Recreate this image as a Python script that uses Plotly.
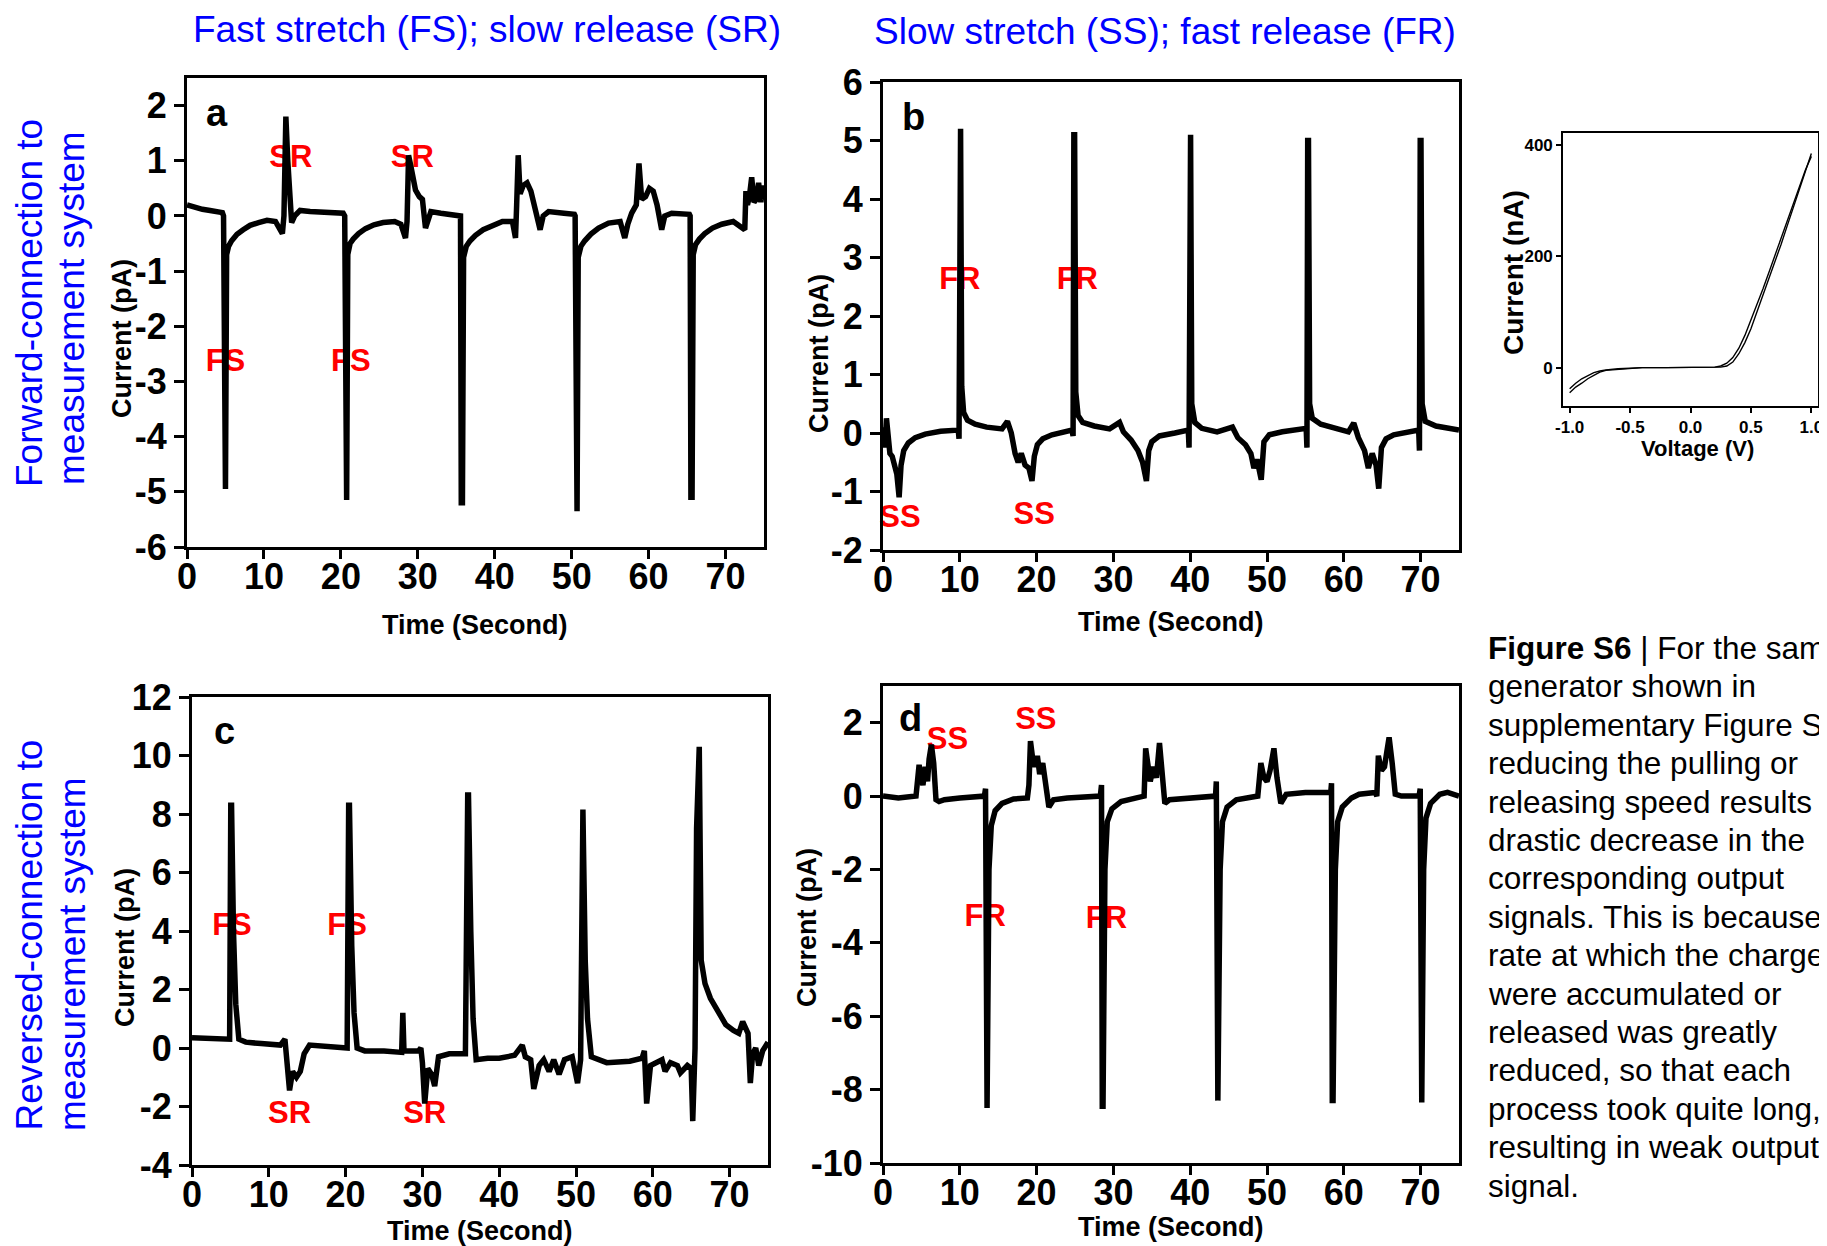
import plotly.graph_objects as go

W, H = 1827, 1246
OFF = 8  # page body margin that the browser adds around the figure

# ---------------- data ----------------
# Panel a: forward connection, fast stretch / slow release
a_t = [0, 1, 2, 3, 4, 4.6, 4.75, 4.85, 5.0, 5.15, 5.4, 5.8, 6.5, 7.3, 8.2, 9.3, 10.4, 11.5,
       12.0, 12.4, 12.6, 12.85, 13.1, 13.35, 13.6, 14.0, 14.7, 16, 18, 20.3, 20.5, 20.6, 20.75,
       20.9, 21.2, 21.6, 22.3, 23.2, 24.3, 25.5, 27, 27.8, 28.4, 28.6, 28.8, 29.1, 29.4, 29.7,
       30.2, 30.6, 31.0, 31.4, 31.7, 33, 35.4, 35.55, 35.65, 35.8, 35.95, 36.3, 36.8, 37.5,
       38.5, 39.7, 41, 42.3, 42.7, 42.85, 43.05, 43.3, 43.7, 44.2, 44.7, 45.3, 45.9, 46.3, 47,
       49, 50.35, 50.45, 50.55, 50.7, 50.85, 51.2, 51.7, 52.5, 53.5, 54.8, 56.3, 56.9, 57.3,
       57.8, 58.4, 58.75, 59.1, 59.6, 60.1, 60.6, 61.1, 61.7, 62.1, 63, 65.3, 65.4, 65.5,
       65.65, 65.8, 66.1, 66.6, 67.3, 68.3, 69.5, 71, 72.2, 72.5, 72.65, 72.85, 73.1, 73.4,
       73.7, 74.0, 74.3, 74.6, 74.8, 75]
a_i = [0.2, 0.15, 0.12, 0.1, 0.08, 0.06, 0.0, -4.95, -4.95, -0.7, -0.55, -0.45, -0.33, -0.25,
       -0.17, -0.12, -0.08, -0.1, -0.2, -0.32, 0.0, 1.8, 1.0, 0.2, -0.12, 0.0, 0.1, 0.08, 0.07,
       0.05, 0.0, -5.15, -5.15, -0.7, -0.5, -0.42, -0.32, -0.23, -0.16, -0.12, -0.1, -0.15,
       -0.4, -0.1, 1.1, 0.9, 0.6, 0.47, 0.35, 0.3, -0.22, -0.05, 0.08, 0.05, 0.02, 0.0, -5.2,
       -5.2, -0.75, -0.55, -0.45, -0.35, -0.25, -0.17, -0.1, -0.1, -0.4, 0.2, 1.1, 0.4, 0.55,
       0.6, 0.45, 0.1, -0.25, 0.0, 0.08, 0.05, 0.03, 0.0, -5.35, -5.35, -0.75, -0.55, -0.45,
       -0.33, -0.22, -0.13, -0.1, -0.4, -0.15, 0.05, 0.2, 0.95, 0.3, 0.35, 0.5, 0.45, 0.2,
       -0.25, 0.0, 0.05, 0.03, 0.0, -5.1, -5.1, -0.7, -0.52, -0.42, -0.32, -0.22, -0.15, -0.1,
       -0.2, -0.25, 0.45, 0.2, 0.35, 0.7, 0.25, 0.3, 0.6, 0.25, 0.55, 0.3]

# Panel b: forward connection, slow stretch / fast release
b_t = [0, 0.25, 0.45, 0.7, 0.9, 1.2, 1.5, 1.8, 2.1, 2.35, 2.7, 3.3, 4.2, 5.5, 7.5, 9.8, 9.9,
       10.0, 10.1, 10.25, 10.5, 11, 12, 13.5, 15.5, 16.2, 16.7, 17.2, 17.6, 18.0, 18.5, 19.0,
       19.4, 19.7, 20.1, 20.8, 22, 24.6, 24.75, 24.85, 24.95, 25.1, 25.4, 26, 27.5, 29.5,
       30.8, 31.3, 32.3, 33.2, 33.8, 34.3, 34.6, 35.0, 36, 38, 39.75, 39.85, 39.95, 40.05,
       40.2, 40.6, 41.5, 43.5, 45.5, 46.2, 47.2, 47.9, 48.3, 48.7, 49.25, 49.6, 50.3, 52,
       55.1, 55.2, 55.3, 55.4, 55.55, 55.9, 57, 59, 60.6, 61.3, 61.9, 62.7, 63.2, 63.7, 64.2,
       64.55, 64.9, 65.5, 66.5, 69.75, 69.85, 69.95, 70.05, 70.2, 70.6, 72, 74, 75]
b_i = [0.1, -0.25, 0.25, -0.1, -0.35, -0.4, -0.55, -0.7, -1.1, -0.55, -0.3, -0.17, -0.08,
       -0.02, 0.03, 0.05, -0.1, 5.2, 5.2, 0.8, 0.35, 0.22, 0.15, 0.1, 0.07, 0.2, 0.0, -0.35,
       -0.5, -0.35, -0.55, -0.6, -0.82, -0.4, -0.2, -0.1, -0.03, 0.05, -0.05, 5.1, 5.1, 0.7,
       0.3, 0.18, 0.12, 0.07, 0.18, 0.02, -0.12, -0.3, -0.5, -0.82, -0.3, -0.15, -0.05, 0.0,
       0.05, -0.25, 5.1, 5.1, 0.5, 0.18, 0.08, 0.02, 0.1, -0.08, -0.2, -0.35, -0.6, -0.45,
       -0.8, -0.15, -0.03, 0.02, 0.08, -0.25, 5.0, 5.0, 0.5, 0.25, 0.15, 0.07, 0.02, 0.17,
       -0.08, -0.3, -0.6, -0.35, -0.55, -0.95, -0.25, -0.1, -0.03, 0.05, -0.3, 5.0, 5.0, 0.5,
       0.2, 0.12, 0.07, 0.05]

# Panel c: reversed connection, fast stretch / slow release
c_t = [0, 2, 4.5, 4.9, 5.05, 5.15, 5.4, 5.7, 6.1, 7, 9, 11.5, 12.1, 12.4, 12.7, 13.1, 13.6,
       14.1, 14.6, 15.3, 17, 20.2, 20.4, 20.5, 20.8, 21.1, 21.5, 22.5, 25, 27.3, 27.45, 27.6,
       29.5, 29.8, 30.0, 30.3, 30.7, 31.2, 31.6, 32.1, 33.5, 35.6, 35.9, 36.0, 36.3, 36.6,
       37.0, 38.5, 40, 42, 43.0, 43.4, 44.1, 44.5, 45.2, 45.8, 46.5, 47.1, 47.8, 48.5, 49.5,
       50.2, 50.6, 50.8, 50.9, 51.2, 51.5, 52, 54, 57, 58.6, 58.9, 59.2, 59.7, 60.5, 61.2,
       61.6, 62.3, 63.2, 63.6, 64.5, 65.0, 65.2, 65.5, 65.7, 65.9, 66.05, 66.3, 66.8, 67.5,
       68.5, 69.5, 70.5, 71.2, 71.7, 72.0, 72.4, 72.7, 73.0, 73.4, 73.8, 74.3, 74.7, 75]
c_i = [0.35, 0.33, 0.3, 0.3, 8.3, 8.3, 4.0, 1.5, 0.3, 0.2, 0.15, 0.1, 0.3, -0.5, -1.45, -0.8,
       -1.0, -0.8, -0.2, 0.1, 0.05, 0.0, 8.3, 8.3, 3.5, 1.2, 0.0, -0.1, -0.1, -0.15, 1.2, -0.1,
       -0.1, 0.0, -0.5, -1.9, -0.7, -0.9, -1.3, -0.3, -0.2, -0.2, 8.65, 8.65, 4.0, 1.0, -0.4,
       -0.35, -0.35, -0.25, 0.1, -0.3, -0.4, -1.4, -0.6, -0.4, -0.8, -0.4, -0.9, -0.4, -0.3,
       -1.2, -0.4, 8.15, 8.15, 3.0, 1.0, -0.3, -0.5, -0.45, -0.35, -0.1, -1.9, -0.6, -0.5,
       -0.4, -0.8, -0.5, -0.6, -0.85, -0.6, -0.7, -2.5, 0.0, 7.5, 10.3, 10.3, 3.0, 2.2, 1.7,
       1.2, 0.8, 0.6, 0.5, 0.9, 0.7, 0.5, -1.2, -0.2, 0.0, -0.6, -0.1, 0.1, 0.2]

# Panel d: reversed connection, slow stretch / fast release
d_t = [0, 2, 4.3, 4.5, 4.7, 4.9, 5.2, 5.5, 5.8, 6.0, 6.3, 6.6, 6.9, 7.3, 8, 10, 13.2, 13.35,
       13.45, 13.55, 13.8, 14.1, 14.6, 15.5, 17, 18.8, 19.0, 19.2, 19.5, 19.8, 20.1, 20.4,
       20.8, 21.2, 21.6, 22.2, 24, 28.3, 28.45, 28.55, 28.65, 28.9, 29.2, 29.8, 31, 33, 34.0,
       34.2, 34.5, 34.8, 35.2, 35.6, 36.0, 36.4, 36.7, 37.3, 40, 43.3, 43.4, 43.5, 43.6, 43.9,
       44.2, 44.8, 46, 48.8, 49.2, 49.6, 50.0, 50.4, 50.9, 51.3, 51.8, 52.5, 55, 58.3, 58.4,
       58.5, 58.6, 58.9, 59.2, 59.8, 61, 62, 64.1, 64.3, 64.5, 64.9, 65.3, 65.6, 65.9, 66.3,
       66.7, 67.5, 69.8, 69.95, 70.05, 70.15, 70.4, 70.7, 71.3, 72.5, 73.5, 75]
d_i = [0.0, -0.05, 0.0, 0.3, 0.85, 0.6, 0.3, 0.8, 0.4, 1.0, 1.4, 0.9, -0.1, -0.15, -0.1, -0.05,
       0.0, 0.2, -8.5, -8.5, -2.0, -0.8, -0.4, -0.2, -0.08, -0.05, 0.3, 1.5, 1.0, 0.8, 1.1, 0.6,
       0.9, 0.2, -0.3, -0.1, -0.05, 0.0, 0.3, -8.45, -8.45, -2.0, -0.7, -0.35, -0.15, -0.05,
       0.0, 1.3, 0.7, 0.4, 0.8, 0.5, 1.45, 0.6, -0.2, -0.1, -0.05, 0.0, 0.4, -8.3, -8.3, -2.0,
       -0.7, -0.3, -0.1, 0.0, 0.9, 0.5, 0.4, 0.7, 1.3, 0.5, -0.2, 0.05, 0.1, 0.1, 0.35, -8.3,
       -8.3, -2.0, -0.7, -0.3, -0.05, 0.05, 0.1, 0.0, 1.1, 0.7, 0.8, 1.2, 1.6, 0.9, 0.05, 0.0,
       0.0, 0.2, -8.35, -8.35, -2.0, -0.6, -0.2, 0.05, 0.1, 0.0]

# Inset: I-V curve (two sweeps)
iv_v = [-1.0, -0.95, -0.9, -0.85, -0.8, -0.75, -0.7, -0.6, -0.5, -0.4, -0.2, 0.0, 0.2, 0.25,
        0.3, 0.35, 0.4, 0.45, 0.5, 0.55, 0.6, 0.65, 0.7, 0.75, 0.8, 0.85, 0.9, 0.95, 1.0]
iv_fwd = [-45, -35, -28, -20, -14, -8, -5, -3, -1, 0, 0, 0, 0, 1, 3, 10, 25, 45, 70, 100, 130,
          160, 190, 222, 255, 288, 320, 352, 385]
iv_rev = [-38, -28, -20, -14, -9, -6, -4, -2, -1, 0, 0, 0, 1, 3, 8, 18, 35, 58, 85, 112, 142,
          172, 202, 232, 262, 293, 325, 355, 380]

# Event labels (text, time, current)
a_lab = [("SR", 13.5, 1.02), ("SR", 29.3, 1.02), ("FS", 5.0, -2.67), ("FS", 21.3, -2.67)]
b_lab = [("FR", 10.0, 2.6), ("FR", 25.3, 2.6), ("SS", 2.2, -1.48), ("SS", 19.7, -1.42)]
c_lab = [("FS", 5.2, 4.14), ("FS", 20.2, 4.14), ("SR", 12.7, -2.31), ("SR", 30.3, -2.31)]
d_lab = [("SS", 8.4, 1.5), ("SS", 19.9, 2.03), ("FR", 13.3, -3.34), ("FR", 29.1, -3.39)]

# Tick labels
x_ticks = [0, 10, 20, 30, 40, 50, 60, 70]
a_yticks = [-6, -5, -4, -3, -2, -1, 0, 1, 2]
b_yticks = [-2, -1, 0, 1, 2, 3, 4, 5, 6]
c_yticks = [-4, -2, 0, 2, 4, 6, 8, 10, 12]
d_yticks = [-10, -8, -6, -4, -2, 0, 2]
iv_xticks = [-1.0, -0.5, 0.0, 0.5, 1.0]
iv_yticks = [0, 200, 400]

col_titles = ["Fast stretch (FS); slow release (SR)", "Slow stretch (SS); fast release (FR)"]
row_titles = [("Forward-connection to", "measurement system"),
              ("Reversed-connection to", "measurement system")]
caption = ["<b>Figure S6</b> | For the same", "generator shown in",
           "supplementary Figure S5,", "reducing the pulling or",
           "releasing speed results in a", "drastic decrease in the",
           "corresponding output", "signals. This is because the",
           "rate at which the charges", "were accumulated or",
           "released was greatly", "reduced, so that each",
           "process took quite long,", "resulting in weak output",
           "signal."]

# ---------------- figure ----------------
FONT = "Liberation Sans, Arial, Helvetica, sans-serif"
BLUE = "#0000FF"
RED = "#FF0000"


def px_x(p):
    return (p - OFF) / W


def px_y(p):
    return 1 - (p - OFF) / H


fig = go.Figure()

panels = [
    ("x", "y", a_t, a_i, a_lab),
    ("x2", "y2", b_t, b_i, b_lab),
    ("x3", "y3", c_t, c_i, c_lab),
    ("x4", "y4", d_t, d_i, d_lab),
]
for xa, ya, t, i, labs in panels:
    fig.add_trace(go.Scatter(
        x=[l[1] for l in labs], y=[l[2] for l in labs], text=[l[0] for l in labs],
        mode="text", textfont=dict(family=FONT, size=31, color=RED, weight="bold"),
        xaxis=xa, yaxis=ya, hoverinfo="skip", showlegend=False, cliponaxis=False))
    fig.add_trace(go.Scatter(
        x=t, y=i, mode="lines", line=dict(color="black", width=5.5),
        xaxis=xa, yaxis=ya, showlegend=False, hoverinfo="skip"))

for arr in (iv_fwd, iv_rev):
    fig.add_trace(go.Scatter(x=iv_v, y=arr, mode="lines",
                             line=dict(color="black", width=1.4),
                             xaxis="x5", yaxis="y5", showlegend=False, hoverinfo="skip"))

tickfont = dict(family=FONT, size=36, color="black", weight="bold")


def xaxis(dom, anchor):
    return dict(domain=dom, anchor=anchor, range=[0, 75], tickvals=x_ticks,
                ticktext=[str(v) for v in x_ticks], showline=True, linewidth=3,
                linecolor="black", mirror=True, ticks="outside", ticklen=9, tickwidth=3,
                tickcolor="black", showgrid=False, zeroline=False, tickfont=tickfont,
                ticklabelstandoff=-13, fixedrange=True, automargin=False)


def yaxis(dom, anchor, rng, vals):
    return dict(domain=dom, anchor=anchor, range=rng, tickvals=vals,
                ticktext=[str(v) for v in vals], showline=True, linewidth=3,
                linecolor="black", mirror=True, ticks="outside", ticklen=10, tickwidth=3,
                tickcolor="black", showgrid=False, zeroline=False, tickfont=tickfont,
                fixedrange=True, automargin=False)


small_tick = dict(family=FONT, size=17, color="black", weight="bold")

fig.update_layout(
    template="none",
    width=W, height=H, margin=dict(l=0, r=0, t=0, b=0, pad=0, autoexpand=False),
    paper_bgcolor="white", plot_bgcolor="white", showlegend=False,
    font=dict(family=FONT, color="black"),
    xaxis=xaxis([px_x(187), px_x(764)], "y"),
    yaxis=yaxis([px_y(547), px_y(78)], "x", [-6, 2.5], a_yticks),
    xaxis2=xaxis([px_x(883), px_x(1459)], "y2"),
    yaxis2=yaxis([px_y(550), px_y(82)], "x2", [-2, 6], b_yticks),
    xaxis3=xaxis([px_x(192), px_x(768)], "y3"),
    yaxis3=yaxis([px_y(1165), px_y(697)], "x3", [-4, 12], c_yticks),
    xaxis4=xaxis([px_x(883), px_x(1459)], "y4"),
    yaxis4=yaxis([px_y(1163), px_y(686)], "x4", [-10, 3], d_yticks),
    xaxis5=dict(domain=[px_x(1563), px_x(1818)], anchor="y5", range=[-1.055, 1.055],
                tickvals=iv_xticks, ticktext=["%.1f" % v for v in iv_xticks],
                showline=True, linewidth=1.6, linecolor="black", mirror=True,
                ticks="outside", ticklen=5, tickwidth=1.5, tickcolor="black",
                showgrid=False, zeroline=False, fixedrange=True, automargin=False,
                tickfont=small_tick),
    yaxis5=dict(domain=[px_y(406), px_y(133)], anchor="x5", range=[-69, 422],
                tickvals=iv_yticks, ticktext=[str(v) for v in iv_yticks],
                showline=True, linewidth=1.6, linecolor="black", mirror=True,
                ticks="outside", ticklen=5, tickwidth=1.5, tickcolor="black",
                showgrid=False, zeroline=False, fixedrange=True, automargin=False,
                tickfont=small_tick),
)

ann = []


def add(text, x, y, size, color="black", bold=False, angle=0, xanchor="center",
        yanchor="middle", align="center"):
    ann.append(dict(text=text, x=px_x(x), y=px_y(y), xref="paper", yref="paper",
                    showarrow=False, textangle=angle, xanchor=xanchor, yanchor=yanchor,
                    align=align,
                    font=dict(family=FONT, size=size, color=color,
                              weight="bold" if bold else "normal")))


# column titles
add(col_titles[0], 487, 29, 37, BLUE)
add(col_titles[1], 1165, 31, 37, BLUE)
# row titles (rotated)
add(row_titles[0][0], 29, 489, 37, BLUE, angle=-90, yanchor="bottom")
add(row_titles[0][1], 72, 487, 37, BLUE, angle=-90, yanchor="bottom")
add(row_titles[1][0], 29, 1133, 37, BLUE, angle=-90, yanchor="bottom")
add(row_titles[1][1], 72, 1133, 37, BLUE, angle=-90, yanchor="bottom")
# axis titles
for (xt, yt), (xc, yc) in [((475, 625), (122, 339)), ((1171, 622), (819, 354)),
                           ((480, 1231), (125, 948)), ((1171, 1227), (807, 928))]:
    add("Time (Second)", xt, yt, 27, bold=True)
    add("Current (pA)", xc, yc, 27, bold=True, angle=-90)
add("Current (nA)", 1513, 273, 28, bold=True, angle=-90)
add("Voltage (V)", 1697, 448, 22, bold=True)
# panel letters
for letter, x, y in [("a", 217, 113), ("b", 913, 117), ("c", 224, 731), ("d", 910, 718)]:
    add(letter, x, y, 38, bold=True)
# caption
for k, line in enumerate(caption):
    add(line, 1486, 648 + k * 38.4, 31.5, xanchor="left")

fig.update_layout(annotations=ann)
fig.write_html("out.html")
